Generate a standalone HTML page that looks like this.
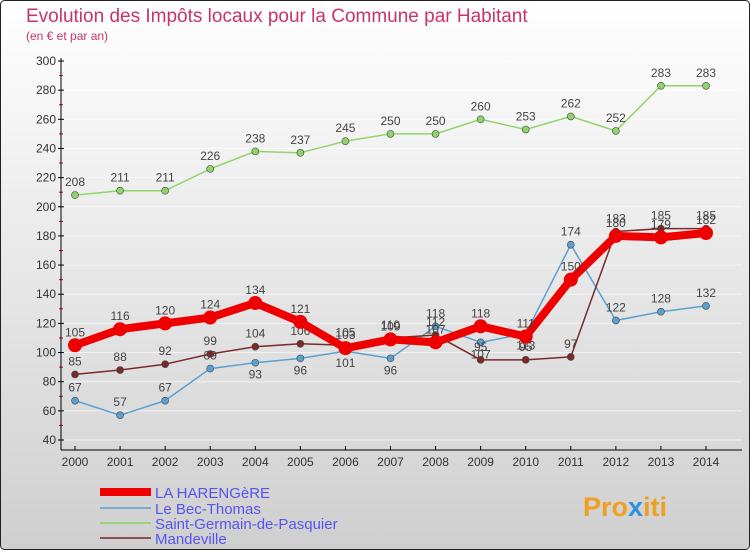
<!DOCTYPE html>
<html><head><meta charset="utf-8"><style>
html,body{margin:0;padding:0}
body{width:750px;height:550px;overflow:hidden;font-family:"Liberation Sans",sans-serif}
</style></head><body>
<svg id="chart" width="750" height="550" xmlns="http://www.w3.org/2000/svg">
<defs><linearGradient id="bg" x1="0" y1="0" x2="0" y2="1"><stop offset="0" stop-color="#ffffff"/><stop offset="1" stop-color="#cfcfcf"/></linearGradient></defs>
<rect x="0.5" y="0.5" width="749" height="549" rx="4" fill="url(#bg)" stroke="#222"/>
<text x="26" y="22" font-size="19" fill="#c8336a">Evolution des Impôts locaux pour la Commune par Habitant</text>
<text x="26" y="40" font-size="12" fill="#c8336a">(en € et par an)</text>
<g id="axes"></g><g id="series"></g><g id="legend"></g>
<text x="583" y="516" font-size="27" font-weight="bold" fill="#f0a020">Pro<tspan fill="#3090e0">x</tspan>iti</text>
</svg>
<script>
const years=[2000,2001,2002,2003,2004,2005,2006,2007,2008,2009,2010,2011,2012,2013,2014];
const yTicks=[40,60,80,100,120,140,160,180,200,220,240,260,280,300];
const harengere=[105,116,120,124,134,121,103,109,107,118,111,150,180,179,182];
const becThomas=[67,57,67,89,93,96,101,96,118,107,113,174,122,128,132];
const saintGermain=[208,211,211,226,238,237,245,250,250,260,253,262,252,283,283];
const mandeville=[85,88,92,99,104,106,105,110,112,95,95,97,183,185,185];
const NS="http://www.w3.org/2000/svg";
const x=i=>75+i*(706-75)/(years.length-1);
const y=v=>440-(v-40)*(440-61)/260;
function mk(tag,attrs,parent,text){const e=document.createElementNS(NS,tag);for(const k in attrs)e.setAttribute(k,attrs[k]);if(text!==undefined)e.textContent=text;parent.appendChild(e);return e;}
const ax=document.getElementById('axes');
yTicks.forEach(t=>{
  const g=mk('line',{x1:62,x2:742,y1:y(t),y2:y(t),stroke:'#ffffff','stroke-width':1,'stroke-opacity':0.6},ax);
  
  
  const tk=mk('line',{x1:58,x2:64,y1:y(t),y2:y(t),stroke:'#000'},ax);
  
  
  if(t<300){const m=mk('line',{x1:59,x2:63,y1:y(t+10),y2:y(t+10),stroke:'#e00'},ax);
  
  }
  const l=mk('text',{x:56,y:y(t)+4,'text-anchor':'end','font-size':12,fill:'#333'},ax,t);
  
  
});
const ya=mk('line',{x1:61,x2:61,y1:58,y2:450,stroke:'#000'},ax);


const xa=mk('line',{x1:61,x2:742,y1:450,y2:450,stroke:'#000'},ax);


years.forEach((yr,i)=>{
  const tk=mk('line',{x1:x(i),x2:x(i),y1:446,y2:450,stroke:'#000'},ax);
  
  
  const l=mk('text',{x:x(i),y:466,'text-anchor':'middle','font-size':12,fill:'#333'},ax,yr);
  
  
});
const sg=document.getElementById('series');
const series=[
 {d:saintGermain,c:'#8fd46a',w:1.5,r:3.5,name:'saint-germain'},
 {d:becThomas,c:'#5aa0d0',w:1.5,r:3.5,name:'bec-thomas'},
 {d:mandeville,c:'#7a2a2a',w:1.5,r:3.5,name:'mandeville'},
 {d:harengere,c:'#ee0000',w:8,r:7,name:'harengere'}];
series.forEach(s=>{
  const g=mk('g',{},sg);
  
  
  const pl=mk('polyline',{points:s.d.map((v,i)=>x(i)+','+y(v)).join(' '),fill:'none',stroke:s.c,'stroke-width':s.w,'stroke-linejoin':'round'},g);
  
  
  s.d.forEach((v,i)=>{
    const c=mk('circle',{cx:x(i),cy:y(v),r:s.r,fill:s.c,stroke:'#444','stroke-width':s.r>5?0:0.6},g);
    
    
    const t=mk('text',{x:x(i),y:y(v)-(s.name==='bec-thomas'&&i>=4&&i<=10&&i!==8?-16:9),'text-anchor':'middle','font-size':12,fill:'#444'},g,v);
    
    
  });
});
const lg=document.getElementById('legend');
const items=[['LA HARENGèRE','#ee0000',8,492],['Le Bec-Thomas','#7aaad0',2,508],['Saint-Germain-de-Pasquier','#9ad47a',2,523],['Mandeville','#8a5050',2,538]];
items.forEach(it=>{
  const ln=mk('line',{x1:100,x2:151,y1:it[3],y2:it[3],stroke:it[1],'stroke-width':it[2]},lg);
  
  
  const t=mk('text',{x:155,y:it[3]+6,'font-size':15,fill:'#5555ee'},lg,it[0]);
  
  
});
</script>
</body></html>
